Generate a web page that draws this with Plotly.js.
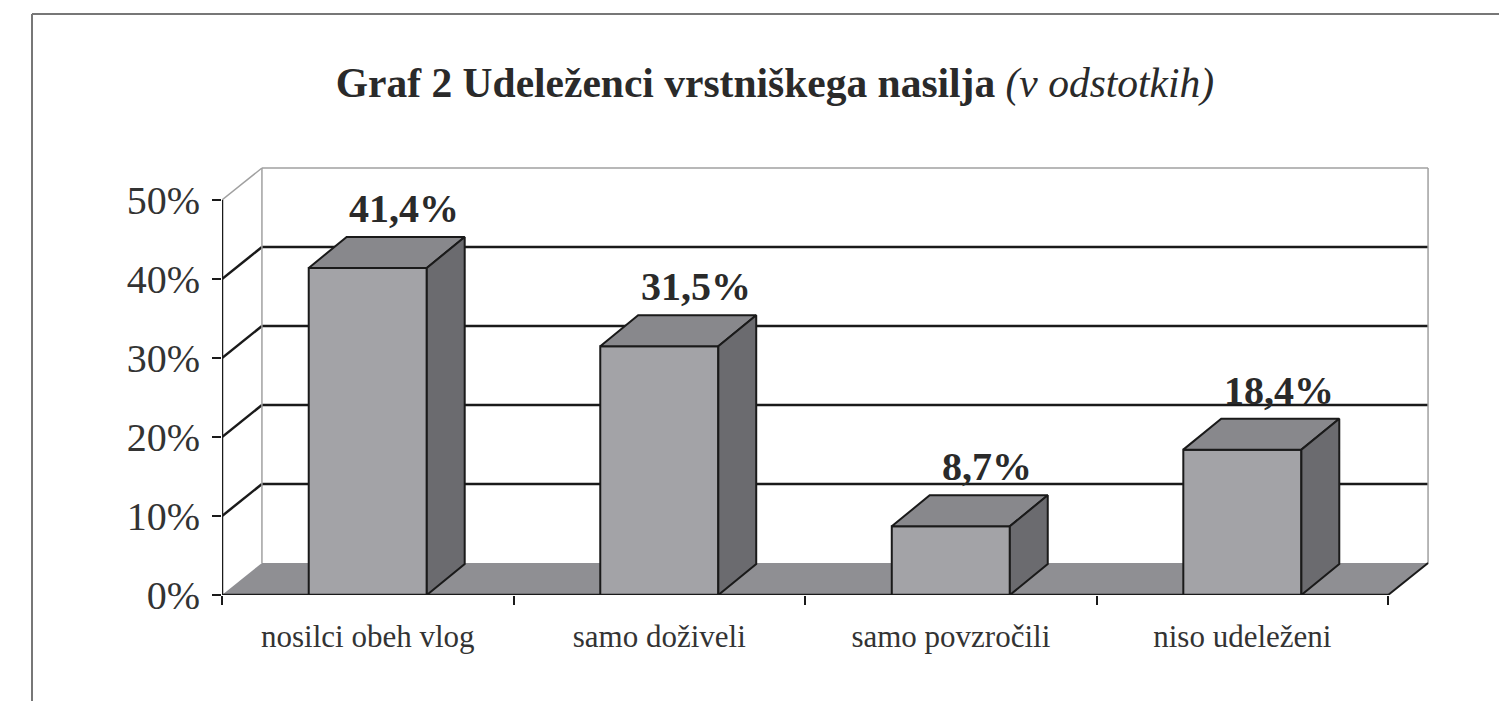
<!DOCTYPE html>
<html>
<head>
<meta charset="utf-8">
<script src="https://cdn.plot.ly/plotly-3.0.1.min.js"></script>
<style>html,body{margin:0;padding:0;background:#fff;}#chart{width:1499px;height:701px;}</style>
</head>
<body>
<div id="chart"></div>
<script>
// ---- data ----
const categories = ["nosilci obeh vlog", "samo doživeli", "samo povzročili", "niso udeleženi"];
const values = [41.4, 31.5, 8.7, 18.4];
const valueLabels = ["41,4%", "31,5%", "8,7%", "18,4%"];
const yTickVals = [0, 10, 20, 30, 40, 50];
const yTickText = ["0%", "10%", "20%", "30%", "40%", "50%"];

// ---- 3D look parameters (in axis units) ----
const depthX = 0.137, depthY = 4.05;      // wall/floor depth offset
const barDX = 0.130, barDY = 3.92;        // bar depth offset
const barW = 0.405;
const xMin = -0.5, xMax = categories.length - 0.5;
const yMax = yTickVals[yTickVals.length - 1];

const FRONT = "#a3a3a7", TOP = "#88888c", SIDE = "#6b6b6f", FLOOR = "#8f8f93";
const EDGE = "#1a1a1a", LIGHT = "#a0a0a0";

const traces = [];
function poly(xs, ys, fill, lineColor, lineWidth) {
  traces.push({type: "scatter", mode: "lines", x: xs.concat([xs[0]]), y: ys.concat([ys[0]]),
    fill: "toself", fillcolor: fill, line: {color: lineColor, width: lineWidth},
    hoverinfo: "skip", showlegend: false});
}
function line(xs, ys, color, width) {
  traces.push({type: "scatter", mode: "lines", x: xs, y: ys, line: {color: color, width: width},
    hoverinfo: "skip", showlegend: false});
}

// floor
poly([xMin, xMax, xMax + depthX, xMin + depthX], [0, 0, depthY, depthY], FLOOR, "rgba(0,0,0,0)", 0);
// back wall gridlines and left wall diagonals
yTickVals.forEach(v => {
  if (v === 0) return;
  const isTop = v === yMax;
  line([xMin + depthX, xMax + depthX], [v + depthY, v + depthY], isTop ? LIGHT : EDGE, isTop ? 1.5 : 2.5);
  line([xMin, xMin + depthX], [v, v + depthY], isTop ? LIGHT : EDGE, isTop ? 1.5 : 2.5);
});
// back wall vertical edges
line([xMin + depthX, xMin + depthX], [depthY, yMax + depthY], LIGHT, 1.5);
line([xMax + depthX, xMax + depthX], [depthY, yMax + depthY], LIGHT, 1.5);
// floor edge
line([xMax, xMax + depthX], [0, depthY], EDGE, 2);
// front value axis line
line([xMin, xMin], [0, yMax], EDGE, 2.5);

// bars
categories.forEach((c, i) => {
  const v = values[i];
  const l = i - barW / 2, r = i + barW / 2;
  poly([l, r, r, l], [0, 0, v, v], FRONT, EDGE, 2);
  poly([l, r, r + barDX, l + barDX], [v, v, v + barDY, v + barDY], TOP, EDGE, 2);
  poly([r, r + barDX, r + barDX, r], [0, barDY, v + barDY, v], SIDE, EDGE, 2);
});
line([xMin, xMax], [0, 0], EDGE, 2.5);

const annotations = categories.map((c, i) => ({
  x: i + 0.125, y: values[i] + barDY, xref: "x", yref: "y",
  text: "<b>" + valueLabels[i] + "</b>", showarrow: false,
  xanchor: "center", yanchor: "bottom", yshift: 4,
  font: {family: "Liberation Serif", size: 40, color: "#2a2a2a"}
}));

const layout = {
  width: 1499, height: 701,
  margin: {l: 222, r: 59, t: 150, b: 106, pad: 0},
  paper_bgcolor: "#ffffff", plot_bgcolor: "rgba(0,0,0,0)",
  showlegend: false,
  title: {
    text: "<b>Graf 2 Udeleženci vrstniškega nasilja</b> <i>(v odstotkih)</i>",
    font: {family: "Liberation Serif", size: 41.5, color: "#2a2a2a"},
    x: 775 / 1499, xref: "container", xanchor: "center",
    y: 1 - 82 / 701, yref: "container", yanchor: "middle"
  },
  xaxis: {
    range: [xMin, 3.678], tickmode: "array", tickvals: categories.map((c, i) => i), ticktext: categories,
    ticks: "outside", ticklen: 14, tickcolor: "rgba(0,0,0,0)",
    showgrid: false, zeroline: false, showline: false, fixedrange: true,
    tickfont: {family: "Liberation Serif", size: 31, color: "#333"},
    minor: {tick0: xMin, dtick: 1, ticks: "outside", ticklen: 9, tickwidth: 2, tickcolor: EDGE, showgrid: false}
  },
  yaxis: {
    range: [0, 56.33], tickmode: "array", tickvals: yTickVals, ticktext: yTickText,
    ticks: "outside", ticklen: 9, tickwidth: 2, tickcolor: EDGE, ticklabelstandoff: 4,
    showgrid: false, zeroline: false, showline: false, fixedrange: true,
    tickfont: {family: "Liberation Serif", size: 40, color: "#333"}
  },
  annotations: annotations,
  shapes: [
    {type: "line", xref: "paper", yref: "paper", x0: (32 - 222) / 1218, x1: 1.1, y0: (701 - 14 - 106) / 445, y1: (701 - 14 - 106) / 445, line: {color: "#777", width: 2}},
    {type: "line", xref: "paper", yref: "paper", x0: (32 - 222) / 1218, x1: (32 - 222) / 1218, y0: (701 - 14 - 106) / 445, y1: -0.5, line: {color: "#777", width: 2}}
  ]
};

Plotly.newPlot("chart", traces, layout, {displayModeBar: false, staticPlot: true});
</script>
</body>
</html>
